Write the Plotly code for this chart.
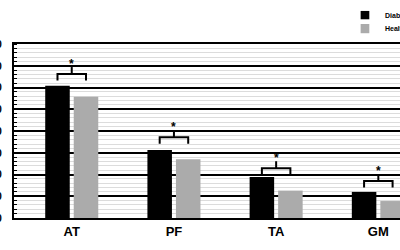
import plotly.graph_objects as go

# ---- data ----
categories = ["AT", "PF", "TA", "GM"]
series_names = ["Diabetes", "Healthy"]
diabetes = [60.8, 31.3, 18.9, 12.0]
healthy = [55.8, 27.0, 12.6, 7.8]
bracket_levels = [66.2, 37.1, 22.9, 17.0]
sig_marks = ["*", "*", "*", "*"]
y_ticks = [0, 10, 20, 30, 40, 50, 60, 70, 80]

BLACK = "#000000"
GRAY = "#ababab"
FONT = "Liberation Sans"

fig = go.Figure()
fig.add_trace(go.Bar(x=categories, y=diabetes, name=series_names[0],
                     marker=dict(color=BLACK, line=dict(width=0)), showlegend=False))
fig.add_trace(go.Bar(x=categories, y=healthy, name=series_names[1],
                     marker=dict(color=GRAY, line=dict(width=0)), showlegend=False))

bargap = 0.442
bargroupgap = 0.14
half_slot = (1 - bargap) / 4.0

shapes = []
annotations = []
for i, lvl in enumerate(bracket_levels):
    x0 = i - half_slot
    x1 = i + half_slot
    line = dict(color=BLACK, width=2)
    shapes.append(dict(type="path", xref="x", yref="y",
                       path=f"M {x0} {lvl-3} L {x0} {lvl} L {x1} {lvl} L {x1} {lvl-3}",
                       line=line))
    shapes.append(dict(type="line", xref="x", yref="y", x0=i, x1=i,
                       y0=lvl, y1=lvl + 3.2, line=line))
    annotations.append(dict(x=i, y=lvl + 3.2, xref="x", yref="y", text=sig_marks[i],
                            showarrow=False, yanchor="middle", xanchor="center",
                            yshift=3,
                            font=dict(family=FONT, size=12, color=BLACK, weight=700)))

# legend drawn manually (small squares + text, cut at right edge like the reference)
leg_colors = [BLACK, GRAY]
leg_y = [(1.190, 1.142), (1.115, 1.062)]
leg_text_y = [1.164, 1.086]
for k in range(2):
    shapes.append(dict(type="rect", xref="paper", yref="paper",
                       x0=0.898, x1=0.9205, y0=leg_y[k][1], y1=leg_y[k][0],
                       fillcolor=leg_colors[k], line=dict(width=0)))
    annotations.append(dict(x=0.955, y=leg_text_y[k], xref="paper", yref="paper",
                            text=series_names[k], showarrow=False,
                            xanchor="left", yanchor="middle",
                            font=dict(family=FONT, size=7, color=BLACK, weight=700)))

fig.update_layout(
    width=400, height=250,
    margin=dict(l=14, r=0, t=44, b=32, autoexpand=False),
    paper_bgcolor="white", plot_bgcolor="white",
    barmode="group", bargap=bargap, bargroupgap=bargroupgap,
    shapes=shapes, annotations=annotations,
    font=dict(family=FONT, color=BLACK),
)
fig.update_xaxes(
    type="category", range=[-0.565, 3.212],
    showline=True, linecolor=BLACK, linewidth=2, mirror=True,
    showgrid=False, ticks="", automargin=False,
    tickfont=dict(family=FONT, size=13, color=BLACK, weight=700),
)
fig.update_yaxes(
    range=[0, 80], tickvals=y_ticks, ticktext=[str(v) for v in y_ticks],
    showline=True, linecolor=BLACK, linewidth=2, mirror=True,
    showgrid=True, gridcolor=BLACK, gridwidth=2,
    zeroline=False, ticks="", automargin=False, ticklabelstandoff=8,
    tickfont=dict(family=FONT, size=11, color=BLACK, weight=700),
    minor=dict(dtick=2, showgrid=True, gridcolor="#dcdcdc", gridwidth=1,
               ticks="inside", ticklen=3, tickcolor=BLACK, tickwidth=1),
)

fig.write_html("out.html")
